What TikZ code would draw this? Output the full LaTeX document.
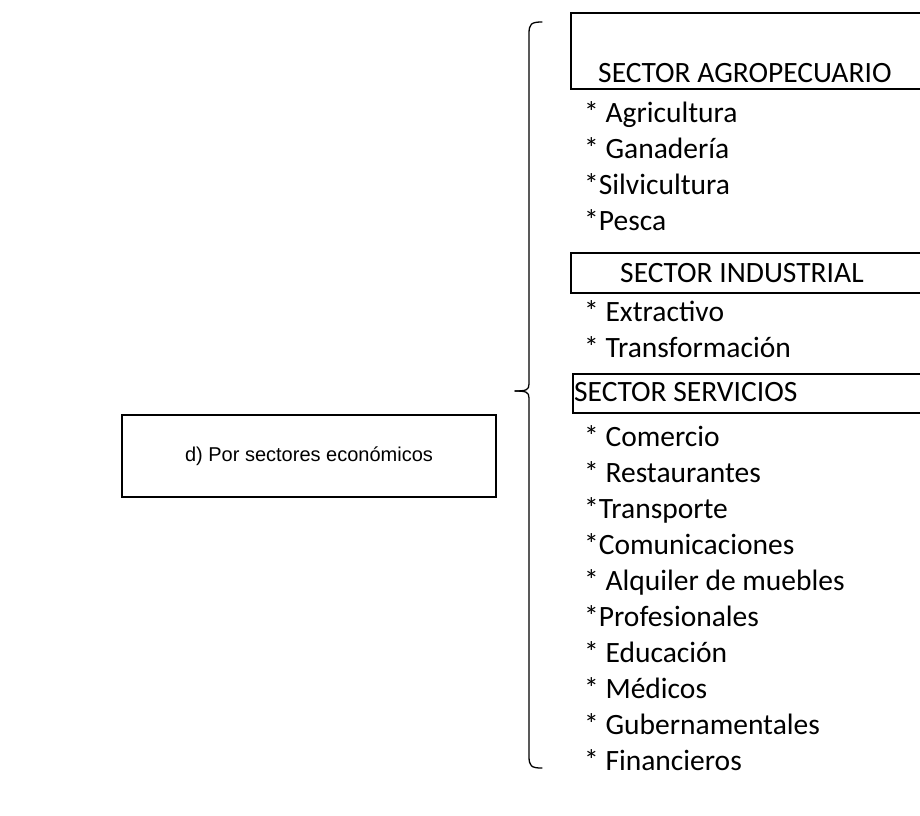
\documentclass[tikz,border=0pt]{standalone}
\usepackage{fontspec}
\setmainfont{Carlito}
\newfontfamily\arialfont{Liberation Sans}
\tikzset{
  sectorbox/.style={draw,line width=1.6pt,anchor=north west,minimum width=360pt,inner sep=0pt},
  item/.style={anchor=base west,inner sep=0pt,font=\fontsize{29.5}{36}\selectfont},
  brace/.style={line width=1.3pt,line cap=round,line join=round}
}

\begin{document}
\begin{tikzpicture}[x=1pt,y=-1pt]
\useasboundingbox (0,0) rectangle (920,815);
\node[draw,line width=1.6pt,minimum width=374pt,minimum height=82pt,inner sep=0pt,font=\arialfont\fontsize{20}{24}\selectfont] (porsectores) at (309,456) {d) Por sectores económicos};

\coordinate (brtop) at (542,22);
\coordinate (brtip) at (515,391);
\coordinate (brbot) at (542,768);
\draw[brace] (brtop) .. controls (531,22) and (529,24) .. (529,34) -- (529,384) .. controls (529,390) and (526,391) .. (brtip);
\draw[brace] (brtip) .. controls (526,391) and (529,392) .. (529,398) -- (529,756) .. controls (529,766) and (531,768) .. (brbot);

\node[sectorbox,minimum height=76pt] (agrobox) at (570,12) {};
\node[sectorbox,minimum height=40pt] (indbox) at (570,252) {};
\node[sectorbox,minimum height=39pt] (servbox) at (572,373) {};

\node[item] (agro) at (598,82) {SECTOR AGROPECUARIO};
\node[item] (agricultura) at (584,122) {* Agricultura};
\node[item] (ganaderia) at (584,158) {* Ganadería};
\node[item] (silvicultura) at (584,194) {*Silvicultura};
\node[item] (pesca) at (584,230) {*Pesca};
\node[item] (ind) at (620,282) {SECTOR INDUSTRIAL};
\node[item] (extractivo) at (584,321) {* Extractivo};
\node[item] (transformacion) at (584,357) {* Transformación};
\node[item] (serv) at (574,401) {SECTOR SERVICIOS};
\node[item] (comercio) at (584,446) {* Comercio};
\node[item] (restaurantes) at (584,482) {* Restaurantes};
\node[item] (transporte) at (584,518) {*Transporte};
\node[item] (comunicaciones) at (584,554) {*Comunicaciones};
\node[item] (alquiler) at (584,590) {* Alquiler de muebles};
\node[item] (profesionales) at (584,626) {*Profesionales};
\node[item] (educacion) at (584,662) {* Educación};
\node[item] (medicos) at (584,698) {* Médicos};
\node[item] (gubernamentales) at (584,734) {* Gubernamentales};
\node[item] (financieros) at (584,770) {* Financieros};
\end{tikzpicture}
\end{document}
